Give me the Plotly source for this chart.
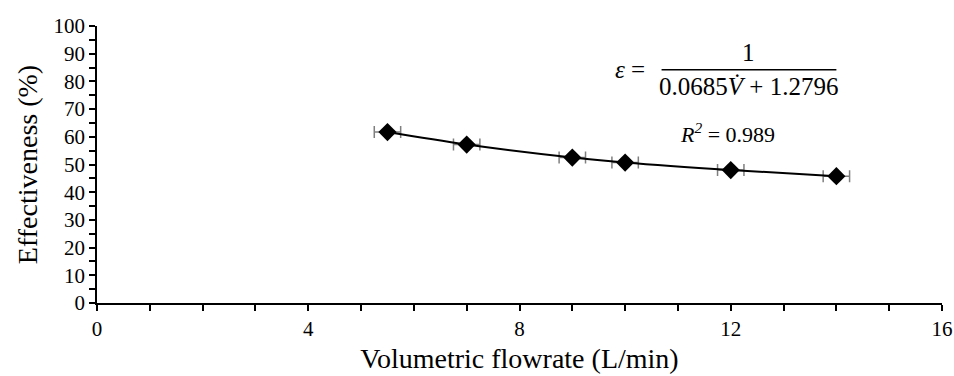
import plotly.graph_objects as go

flowrate = [5.5, 7, 9, 10, 12, 14]
effectiveness = [61.7, 57.2, 52.5, 50.7, 48.0, 45.8]
flow_err = [0.25, 0.25, 0.25, 0.25, 0.25, 0.25]

FONT = "Liberation Serif, Times New Roman, serif"

fig = go.Figure()
fig.add_trace(go.Scatter(
    x=flowrate, y=effectiveness, mode="lines+markers",
    line=dict(color="black", width=2, shape="spline"),
    marker=dict(symbol="diamond", size=14, color="black"),
    error_x=dict(type="data", array=flow_err, visible=True,
                 color="#7f7f7f", thickness=1.5, width=6),
    showlegend=False,
))

fig.update_layout(
    width=954, height=376,
    margin=dict(l=97, r=12, t=26, b=73),
    paper_bgcolor="white", plot_bgcolor="white",
    font=dict(family=FONT, size=21, color="black"),
)
fig.update_xaxes(
    range=[0, 16], tickmode="linear", tick0=0, dtick=4, automargin=False,
    showgrid=False, zeroline=False, showline=True, linecolor="black", linewidth=1.5,
    ticks="outside", ticklen=6, tickwidth=1.5, tickcolor="black",
    minor=dict(dtick=1, ticks="outside", ticklen=6, tickwidth=1.5, tickcolor="black", showgrid=False),
    title=dict(text="Volumetric flowrate (L/min)", font=dict(family=FONT, size=28, color="black"), standoff=8),
    tickfont=dict(family=FONT, size=21, color="black"),
)
fig.update_yaxes(
    range=[0, 100], tickmode="linear", tick0=0, dtick=10, automargin=False,
    showgrid=False, zeroline=False, showline=True, linecolor="black", linewidth=1.5,
    ticks="outside", ticklen=6, tickwidth=1.5, tickcolor="black",
    minor=dict(dtick=5, ticks="outside", ticklen=6, tickwidth=1.5, tickcolor="black", showgrid=False),
    title=dict(text="Effectiveness (%)", font=dict(family=FONT, size=28, color="black"), standoff=8),
    tickfont=dict(family=FONT, size=21, color="black"),
)

# equation annotation
EQ = dict(family=FONT, size=25, color="black")
fig.add_annotation(x=10.09, y=84.2, xref="x", yref="y", text="<i>ε</i> =",
                   showarrow=False, font=EQ)
fig.add_annotation(x=12.34, y=90.3, xref="x", yref="y", text="1",
                   showarrow=False, font=EQ)
fig.add_annotation(x=12.34, y=78.0, xref="x", yref="y", text="0.0685<i>V̇</i> + 1.2796",
                   showarrow=False, font=EQ)
fig.add_shape(type="line", xref="x", yref="y", x0=10.69, x1=14.0, y0=84.2, y1=84.2,
              line=dict(color="black", width=1.5))
fig.add_annotation(x=11.94, y=61.2, xref="x", yref="y",
                   text="<i>R<sup>2</sup></i> = 0.989",
                   showarrow=False, font=dict(family=FONT, size=22, color="black"))

fig.write_html("out.html", config={"displayModeBar": False},
               post_script="document.body.style.margin='0';document.body.style.overflow='hidden';")
